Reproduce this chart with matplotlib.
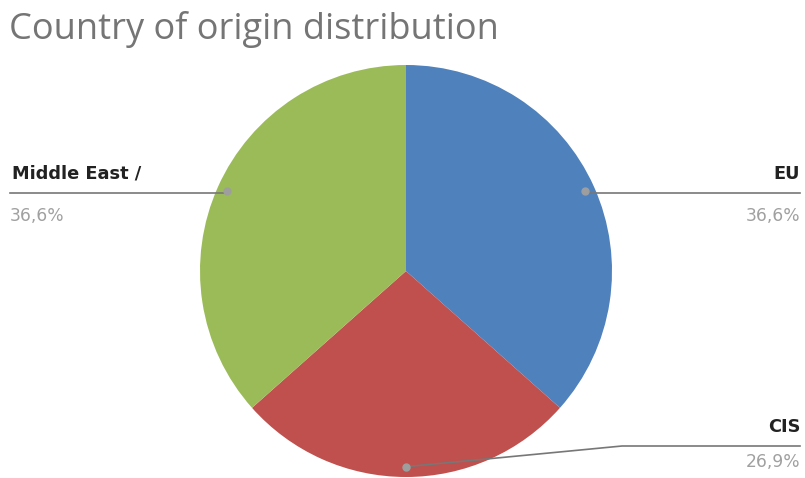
import numpy as np
import matplotlib
matplotlib.use("Agg")
import matplotlib.pyplot as plt

title = "Country of origin distribution"
categories = ["EU", "CIS", "Middle East /"]
shares = [36.6, 26.9, 36.6]
pct_labels = ["36,6%", "26,9%", "36,6%"]
colors = ["#4F81BD", "#C0504D", "#9BBB59"]

W, H = 805, 478
fig = plt.figure(figsize=(W / 100, H / 100), dpi=100)
ax = fig.add_axes([0, 0, 1, 1])

cx, cy, R = 406, H - 271, 206
wedges, _ = ax.pie(shares, colors=colors, startangle=90, counterclock=False,
                   center=(cx, cy), radius=R, frame=True,
                   wedgeprops=dict(linewidth=0))
ax.set_xlim(0, W)
ax.set_ylim(0, H)
ax.axis("off")
ax.set_aspect("equal")

fig.text(9 / W, 1 - 30 / H, title, fontsize=26, color="#757575",
         family="Open Sans", va="center", ha="left")

lab_font = "DejaVu Sans"
lab_kw = dict(va="baseline", fontsize=12.8, fontweight="bold",
              color="#222222", family=lab_font)
pct_kw = dict(va="baseline", fontsize=12.3, color="#A0A0A0", family=lab_font)
line_c = "#777777"
dot_c = "#9E9E9E"
for w, cat, pct in zip(wedges, categories, pct_labels):
    ang = np.deg2rad((w.theta1 + w.theta2) / 2)
    px, py = cx + 0.95 * R * np.cos(ang), cy + 0.95 * R * np.sin(ang)
    ax.plot(px, py, "o", color=dot_c, ms=5, zorder=5)
    if cat == "EU":
        ly = H - 193
        ax.plot([px, 800], [ly, ly], color=line_c, lw=1.2, zorder=4)
        ax.text(800, ly + 14.5, cat, ha="right", **lab_kw)
        ax.text(800, ly - 28, pct, ha="right", **pct_kw)
    elif cat == "CIS":
        ly = H - 446
        ax.plot([px, 622, 800], [py, ly, ly], color=line_c, lw=1.2, zorder=4)
        ax.text(800, ly + 14.5, cat, ha="right", **lab_kw)
        ax.text(800, ly - 21, pct, ha="right", **pct_kw)
    else:
        ly = H - 193
        ax.plot([10, px], [ly, ly], color=line_c, lw=1.2, zorder=4)
        ax.text(12, ly + 14.5, cat, ha="left", **lab_kw)
        ax.text(10, ly - 28, pct, ha="left", **pct_kw)

fig.savefig("out.png", dpi=100, facecolor="white")
